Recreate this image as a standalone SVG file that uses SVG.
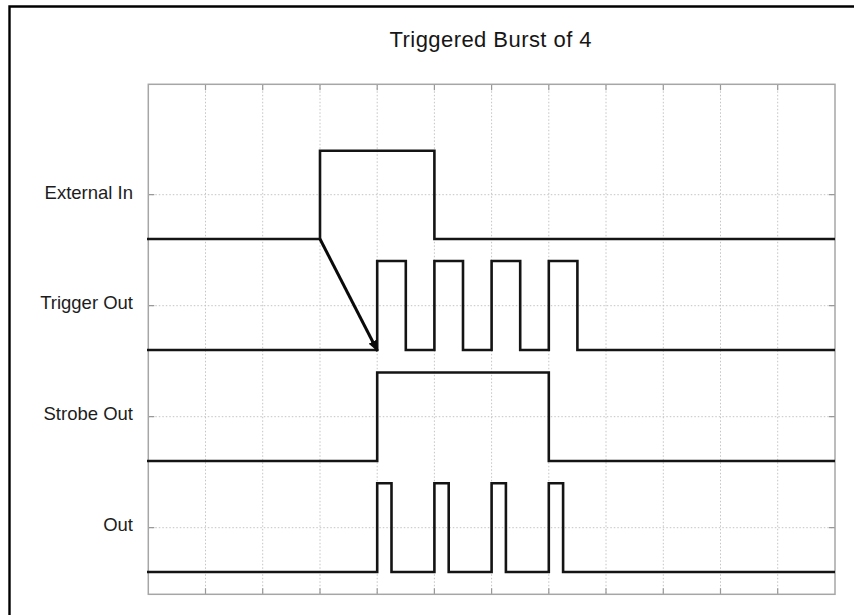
<svg xmlns="http://www.w3.org/2000/svg" width="854" height="615" viewBox="0 0 854 615">
<style>
.frame{fill:none;stroke:#a6a6a6;stroke-width:1.5}
.grid{fill:none;stroke:#c4c4c4;stroke-width:1;stroke-dasharray:1.5 2}
.tick{fill:none;stroke:#999;stroke-width:1.2}
.sig{fill:none;stroke:#141414;stroke-width:2.6;stroke-linejoin:miter}
.arrow{fill:none;stroke:#0a0a0a;stroke-width:3}
.lbl{font-family:"Liberation Sans",Arial,sans-serif;font-size:18.5px;fill:#1c1c1c;text-anchor:end}
.title{font-family:"Liberation Sans",Arial,sans-serif;font-size:22px;fill:#161616;text-anchor:middle}
</style>
<defs>
<marker id="ah" viewBox="0 0 11 9" refX="10.5" refY="4.5" markerWidth="11" markerHeight="9" markerUnits="userSpaceOnUse" orient="auto">
<path d="M0,0 L11,4.5 L0,9 Z" fill="#0a0a0a"/>
</marker>
</defs>
<rect x="0" y="0" width="854" height="615" fill="#fff"/>
<path d="M9.5,615 V6.5 H854" fill="none" stroke="#000" stroke-width="2.4"/>
<g id="title"><text class="title" x="490.5" y="47" textLength="202" lengthAdjust="spacing">Triggered Burst of 4</text></g>
<g id="grid">
<path class="grid" d="M205.5,84.3V594.3 M262.7,84.3V594.3 M320,84.3V594.3 M377.2,84.3V594.3 M434.4,84.3V594.3 M491.6,84.3V594.3 M548.8,84.3V594.3 M606,84.3V594.3 M663.3,84.3V594.3 M720.5,84.3V594.3 M777.7,84.3V594.3"/>
<path class="grid" d="M148.3,194.7H835 M148.3,305.7H835 M148.3,416.7H835 M148.3,527.7H835"/>
<path class="tick" d="M205.5,84.3v6 M262.7,84.3v6 M320,84.3v6 M377.2,84.3v6 M434.4,84.3v6 M491.6,84.3v6 M548.8,84.3v6 M606,84.3v6 M663.3,84.3v6 M720.5,84.3v6 M777.7,84.3v6 M205.5,594.3v-6 M262.7,594.3v-6 M320,594.3v-6 M377.2,594.3v-6 M434.4,594.3v-6 M491.6,594.3v-6 M548.8,594.3v-6 M606,594.3v-6 M663.3,594.3v-6 M720.5,594.3v-6 M777.7,594.3v-6 M148.3,194.7h6 M148.3,305.7h6 M148.3,416.7h6 M148.3,527.7h6 M835,194.7h-6 M835,305.7h-6 M835,416.7h-6 M835,527.7h-6"/>
<rect class="frame" x="148.3" y="84.3" width="686.7" height="510"/>
</g>
<g id="label-external-in"><text class="lbl" x="133" y="198.5">External In</text></g>
<g id="label-trigger-out"><text class="lbl" x="133" y="309">Trigger Out</text></g>
<g id="label-strobe-out"><text class="lbl" x="133" y="420">Strobe Out</text></g>
<g id="label-out"><text class="lbl" x="133" y="531">Out</text></g>
<g id="signal-external-in"><path class="sig" d="M147,239 H320 V150.7 H434.4 V239 H835"/></g>
<g id="signal-trigger-out"><path class="sig" d="M147,350 H377.2 V261 H405.8 V350 H434.4 V261 H463 V350 H491.6 V261 H520.2 V350 H548.8 V261 H577.4 V350 H835"/></g>
<g id="signal-strobe-out"><path class="sig" d="M147,461 H377.2 V372.5 H548.8 V461 H835"/></g>
<g id="signal-out"><path class="sig" d="M147,572 H377.2 V483.3 H391.5 V572 H434.4 V483.3 H448.7 V572 H491.6 V483.3 H505.9 V572 H548.8 V483.3 H563.1 V572 H835"/></g>
<g id="connectors"><path class="arrow" d="M320,239 L377.5,351" marker-end="url(#ah)"/></g>
</svg>
